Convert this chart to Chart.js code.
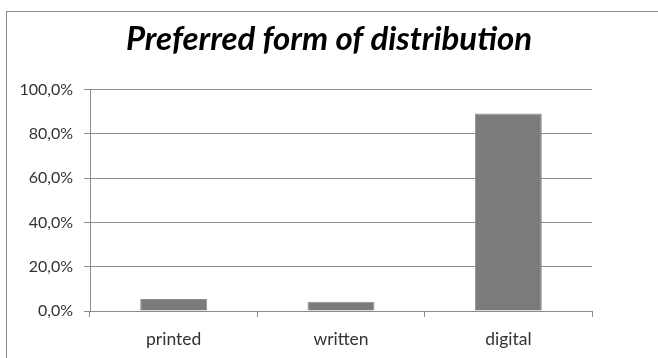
<!DOCTYPE html>
<html>
<head>
<meta charset="utf-8">
<script src="https://cdn.jsdelivr.net/npm/chart.js@4"></script>
<style>
  html, body { margin: 0; padding: 0; background: #fff; overflow: hidden; }
  #wrap { position: relative; width: 658px; height: 358px; }
  #frame {
    position: absolute; left: 6px; top: 11px; width: 700px; height: 400px;
    border-left: 1.5px solid #8a8a8a; border-top: 1.5px solid #8a8a8a;
  }
  canvas { position: absolute; left: 0; top: 0; }
</style>
</head>
<body>
<div id="wrap">
  <div id="frame"></div>
  <canvas id="chart" width="658" height="358"></canvas>
</div>
<script>
// Datos
const chartTitle = "Preferred form of distribution";
const categories = ["printed", "written", "digital"];
const shares = [0.054, 0.042, 0.892];
const yTicks = [0, 0.2, 0.4, 0.6, 0.8, 1.0];

const gridColor = "#8c8c8c";
const labelColor = "#333333";

function pctLabel(v) {
  return (v * 100).toFixed(1).replace(".", ",") + "%";
}

new Chart(document.getElementById("chart"), {
  type: "bar",
  data: {
    labels: categories,
    datasets: [
      {
        data: shares,
        backgroundColor: "#7b7b7b",
        borderColor: "#8f8f8f",
        borderWidth: 1,
        categoryPercentage: 1,
        barPercentage: 0.4,
      },
    ],
  },
  options: {
    responsive: false,
    animation: false,
    layout: { padding: 0 },
    plugins: {
      legend: { display: false },
      tooltip: { enabled: false },
      title: {
        display: true,
        text: chartTitle,
        color: "#000",
        font: { family: "Lato", size: 33, weight: "bold", style: "italic" },
        padding: { top: 20, bottom: 30 },
      },
    },
    scales: {
      x: {
        grid: {
          drawOnChartArea: false,
          drawTicks: true,
          tickLength: 6,
          color: gridColor,
          offset: true,
        },
        border: { color: gridColor, width: 1 },
        ticks: { color: labelColor, font: { family: "Lato", size: 17.5 }, padding: 12 },
        afterFit: (s) => { s.height = 47; },
      },
      y: {
        min: 0,
        max: 1,
        afterBuildTicks: (s) => { s.ticks = yTicks.map((v) => ({ value: v })); },
        grid: { color: gridColor, tickLength: 6 },
        border: { color: gridColor, width: 1 },
        ticks: {
          color: labelColor,
          font: { family: "Lato", size: 16 },
          padding: 11,
          callback: (v) => pctLabel(v),
        },
        afterFit: (s) => { s.width = 90; },
      },
      // eje vacío a la derecha, solo reserva el margen
      yRight: {
        position: "right",
        display: true,
        grid: { display: false },
        border: { display: false },
        ticks: { display: false },
        afterFit: (s) => { s.width = 66; },
      },
    },
  },
});
</script>
</body>
</html>
